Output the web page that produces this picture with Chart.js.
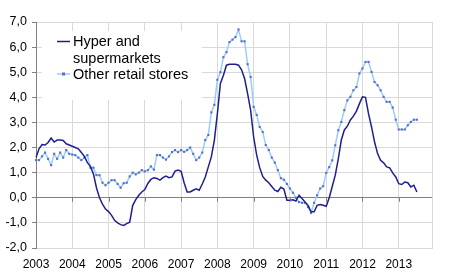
<!DOCTYPE html>
<html>
<head>
<meta charset="utf-8">
<script src="https://cdn.jsdelivr.net/npm/chart.js@4/dist/chart.umd.min.js"></script>
<style>
  html, body { margin: 0; padding: 0; background: #fff; }
  #wrap { width: 450px; height: 279px; }
</style>
</head>
<body>
<div id="wrap"><canvas id="grafico"></canvas></div>
<script>
// años del eje x (cada año = 12 meses, el eje llega hasta dic. 2013)
const anios = ["2003", "2004", "2005", "2006", "2007", "2008", "2009", "2010", "2011", "2012", "2013"];

// Hyper and supermarkets, ene 2003 - jul 2013
const hiper = [
  1.6, 1.95, 2.12, 2.1, 2.2, 2.38, 2.22, 2.3, 2.3, 2.28, 2.15, 2.1,
  2.05, 2.0, 1.95, 1.8, 1.65, 1.4, 1.25, 0.95, 0.4, 0.0, -0.25, -0.45,
  -0.55, -0.7, -0.9, -1.0, -1.07, -1.1, -1.03, -0.97, -0.3, -0.07, 0.1, 0.23,
  0.33, 0.57, 0.73, 0.8, 0.77, 0.7, 0.8, 0.86, 0.8, 0.83, 1.06, 1.1,
  1.05, 0.6, 0.23, 0.23, 0.3, 0.36, 0.3, 0.55, 0.83, 1.23, 1.63, 2.29,
  3.35, 4.55, 4.88, 5.28, 5.32, 5.32, 5.32, 5.28, 5.1, 4.75, 4.15, 3.49,
  2.42, 1.7, 1.2, 0.85, 0.7, 0.6, 0.45, 0.3, 0.25, 0.42, 0.35, -0.1,
  -0.1, -0.08, -0.13, 0.1, -0.03, -0.17, -0.3, -0.56, -0.56, -0.3, -0.27, -0.3,
  -0.34, 0.0, 0.45, 0.9, 1.55, 2.3, 2.7, 2.85, 3.1, 3.25, 3.45, 3.75,
  4.02, 4.0, 3.35, 2.82, 2.22, 1.76, 1.49, 1.39, 1.23, 1.19, 0.99, 0.83,
  0.56, 0.53, 0.63, 0.6, 0.43, 0.5, 0.23,
];

// Other retail stores
const otros = [
  1.5, 1.5, 1.65, 1.8, 1.55, 1.3, 1.75, 1.55, 1.8, 1.6, 1.9, 1.75,
  1.72, 1.7, 1.6, 1.5, 1.6, 1.7, 1.2, 1.2, 0.9, 0.9, 0.6, 0.5,
  0.6, 0.7, 0.7, 0.55, 0.4, 0.58, 0.6, 0.85, 1.0, 0.93, 1.0, 1.1,
  1.05, 1.1, 1.25, 1.12, 1.7, 1.7, 1.6, 1.52, 1.65, 1.82, 1.9, 1.82,
  1.9, 1.83, 1.9, 2.0, 1.75, 1.5, 1.6, 1.8, 2.3, 2.5, 3.4, 3.7,
  4.7, 5.0, 5.6, 5.8, 6.2, 6.3, 6.4, 6.7, 6.23, 6.23, 5.32, 4.81,
  3.62, 3.3, 2.82, 2.62, 2.1, 1.9, 1.6, 1.4, 1.1, 0.78, 0.72, 0.55,
  0.37, 0.2, 0.0, -0.17, -0.2, -0.2, -0.37, -0.6, -0.2, 0.1, 0.37, 0.46,
  0.99, 1.22, 1.49, 2.09, 2.69, 3.02, 3.49, 3.88, 4.02, 4.28, 4.41, 4.95,
  5.15, 5.41, 5.41, 5.01, 4.61, 4.48, 4.28, 4.02, 3.82, 3.82, 3.59, 3.11,
  2.72, 2.72, 2.72, 2.89, 3.02, 3.11, 3.11,
];

const etiquetasLeyenda = [["Hyper and", "supermarkets"], ["Other retail stores"]];

// etiquetas mensuales: "2003-01" ... "2013-12"
const meses = [];
anios.forEach((a) => {
  for (let m = 1; m <= 12; m++) meses.push(a + "-" + String(m).padStart(2, "0"));
});

const FUENTE = "'Liberation Sans', Arial, sans-serif";
const AZUL_OSCURO = "#1f1f8f";
const AZUL_CLARO = "#99ccff";
const MARCADOR = "#5b6fc0";

// leyenda dentro del área del gráfico, con fondo blanco
const leyendaInterna = {
  id: "leyendaInterna",
  beforeDatasetsDraw(chart) {
    const ctx = chart.ctx;
    ctx.save();
    ctx.fillStyle = "#fff";
    ctx.fillRect(42, 31, 160, 69);
    ctx.restore();
  },
  afterDraw(chart) {
    const ctx = chart.ctx;
    const x = chart.scales.x;
    const y = chart.scales.y;
    ctx.save();
    // marcas de años sobre la línea del cero
    const y0 = y.getPixelForValue(0);
    ctx.strokeStyle = "#808080";
    ctx.lineWidth = 1;
    meses.forEach((m, i) => {
      if (i % 12 !== 0) return;
      const px = Math.round(x.getPixelForValue(i)) + 0.5;
      ctx.beginPath();
      ctx.moveTo(px, y0);
      ctx.lineTo(px, y0 + 4);
      ctx.stroke();
    });

    // muestras de la leyenda
    ctx.lineWidth = 1.5;
    ctx.strokeStyle = AZUL_OSCURO;
    ctx.beginPath();
    ctx.moveTo(57, 41.5);
    ctx.lineTo(70, 41.5);
    ctx.stroke();
    ctx.strokeStyle = AZUL_CLARO;
    ctx.beginPath();
    ctx.moveTo(57, 74);
    ctx.lineTo(70, 74);
    ctx.stroke();
    ctx.fillStyle = MARCADOR;
    ctx.fillRect(62, 72.5, 3, 3);

    ctx.fillStyle = "#000";
    ctx.font = "14.5px " + FUENTE;
    ctx.textAlign = "left";
    ctx.textBaseline = "alphabetic";
    ctx.fillText(etiquetasLeyenda[0][0], 73, 46);
    ctx.fillText(etiquetasLeyenda[0][1], 73, 62.5);
    ctx.fillText(etiquetasLeyenda[1][0], 73, 79);
    ctx.restore();
  },
};

new Chart(document.getElementById("grafico"), {
  type: "line",
  data: {
    labels: meses,
    datasets: [
      {
        label: "Other retail stores",
        data: otros,
        borderColor: AZUL_CLARO,
        borderWidth: 1.5,
        pointRadius: 1.5,
        pointStyle: "rect",
        pointBackgroundColor: MARCADOR,
        pointBorderWidth: 0,
        tension: 0,
        order: 2,
      },
      {
        label: "Hyper and supermarkets",
        data: hiper,
        borderColor: AZUL_OSCURO,
        borderWidth: 1.5,
        pointRadius: 0,
        tension: 0,
        order: 1,
      },
    ],
  },
  options: {
    responsive: true,
    maintainAspectRatio: false,
    animation: false,
    layout: { padding: { top: 22, right: 18, bottom: 0, left: 0 } },
    plugins: {
      legend: { display: false },
      tooltip: { enabled: false },
    },
    scales: {
      x: {
        offset: false,
        grid: {
          color: "#d9d9d9",
          drawTicks: false,
        },
        border: { color: "#d9d9d9" },
        ticks: {
          autoSkip: false,
          maxRotation: 0,
          padding: 9,
          color: "#000",
          font: { family: FUENTE, size: 12 },
          callback: (v, i) => {
            if (i % 12 === 0) return meses[i].slice(0, 4);
            if (i === meses.length - 1) return "";
            return null;
          },
        },
        afterFit: (s) => { s.height = 31; },
      },
      y: {
        min: -2,
        max: 7,
        grid: {
          color: (c) => (c.tick && c.tick.value === 0 ? "#808080" : "#d9d9d9"),
          tickColor: "#808080",
          tickLength: 4,
        },
        border: { color: "#808080" },
        ticks: {
          stepSize: 1,
          padding: 5,
          color: "#000",
          font: { family: FUENTE, size: 12.5 },
          callback: (v) => v.toFixed(1).replace(".", ","),
        },
        afterFit: (s) => { s.width = 36; },
      },
    },
  },
  plugins: [leyendaInterna],
});
</script>
</body>
</html>
